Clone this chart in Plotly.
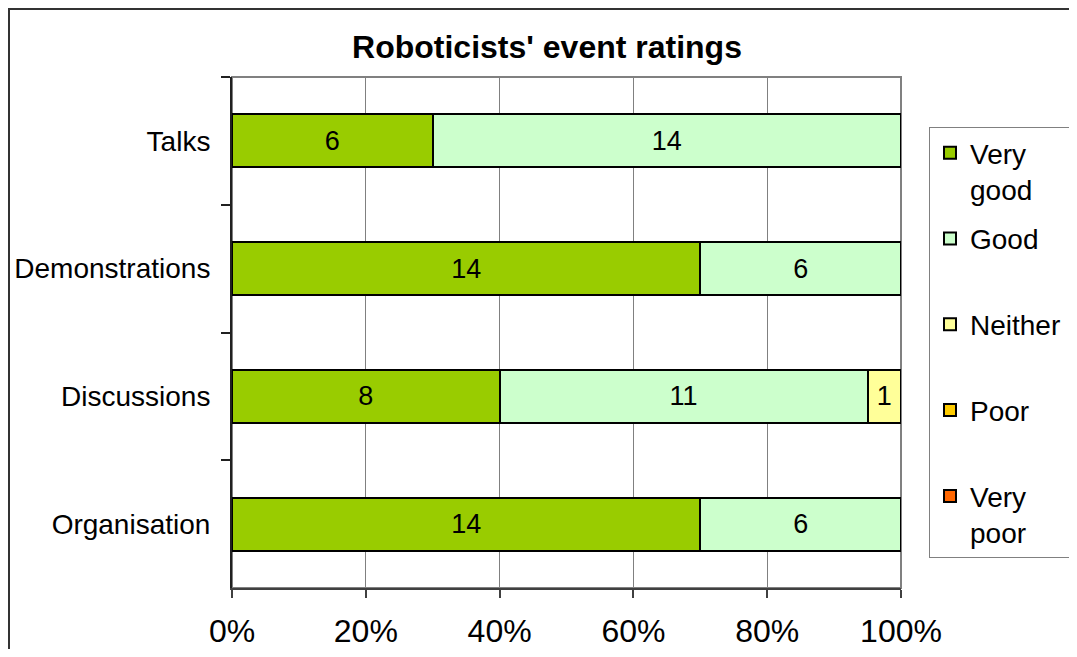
import plotly.graph_objects as go

# event categories, top to bottom
events = ['Talks', 'Demonstrations', 'Discussions', 'Organisation']

# number of responses per rating
very_good = [6, 14, 8, 14]
good = [14, 6, 11, 6]
neither = [0, 0, 1, 0]
poor = [0, 0, 0, 0]
very_poor = [0, 0, 0, 0]

x_ticks = [0, 0.2, 0.4, 0.6, 0.8, 1.0]
x_tick_labels = ['0%', '20%', '40%', '60%', '80%', '100%']

series = [
    ('Very<br>good', very_good, '#99CC00'),
    ('Good<br> ', good, '#CCFFCC'),
    ('Neither&nbsp;<br> ', neither, '#FFFF99'),
    ('Poor<br> ', poor, '#FFCC00'),
    ('Very<br>poor', very_poor, '#FF6600'),
]

FONT = 'Arial, Liberation Sans, sans-serif'

# page has an 8px body margin, so the figure is 16px smaller than the window
W, H = 1061, 641
L, R, T, B = 224, 168, 69, 61
pw, ph = W - L - R, H - T - B

fig = go.Figure()
for i, (name, vals, col) in enumerate(series):
    fig.add_trace(go.Bar(
        y=events, x=vals, name=name, orientation='h',
        legendgroup='g%d' % i,
        marker=dict(color=col, line=dict(color='black', width=2)),
        text=[str(v) if v else '' for v in vals],
        textposition='inside', insidetextanchor='middle',
        textangle=0, constraintext='none',
        textfont=dict(family=FONT, size=27, color='black'),
        hoverinfo='skip',
    ))

fig.update_layout(
    width=W, height=H,
    barmode='stack', barnorm='fraction', bargap=0.585,
    paper_bgcolor='white', plot_bgcolor='white',
    margin=dict(l=L, r=R, t=T, b=B, autoexpand=False),
    font=dict(family=FONT, size=28, color='black'),
    title=dict(text="<b>Roboticists' event ratings</b>",
               x=539 / W, xanchor='center', y=1 - 39 / H, yanchor='middle',
               font=dict(family=FONT, size=32, color='black')),
    legend=dict(x=(921 - L) / pw, y=1 - (119 - T) / ph, xanchor='left', yanchor='top',
                bordercolor='#808080', borderwidth=1,
                font=dict(family=FONT, size=28, color='black'),
                valign='top', tracegroupgap=10, itemclick=False),
    xaxis=dict(range=[0, 1], tickvals=x_ticks, ticktext=x_tick_labels,
               showgrid=True, gridcolor='#808080', gridwidth=1,
               showline=True, linecolor='#404040', linewidth=2,
               ticks='outside', ticklen=8, tickcolor='#404040', tickwidth=2,
               ticklabelstandoff=6, tickfont=dict(size=32),
               zeroline=False, fixedrange=True),
    yaxis=dict(categoryorder='array', categoryarray=events, autorange='reversed',
               showgrid=False, showline=True, linecolor='#202020', linewidth=2,
               ticks='outside', tickson='boundaries', ticklen=9,
               tickcolor='#202020', tickwidth=2, ticklabelstandoff=14,
               tickfont=dict(size=28), fixedrange=True),
    shapes=[
        # plot area border (top and right)
        dict(type='rect', xref='paper', yref='paper', x0=0, x1=1, y0=0, y1=1,
             line=dict(color='#808080', width=2), layer='below'),
        # outer chart border
        dict(type='rect', xref='paper', yref='paper',
             x0=(1 - L) / pw, x1=2, y0=-1, y1=(H - B - 1) / ph,
             line=dict(color='#333333', width=2)),
    ],
)

fig.write_html('out.html')
